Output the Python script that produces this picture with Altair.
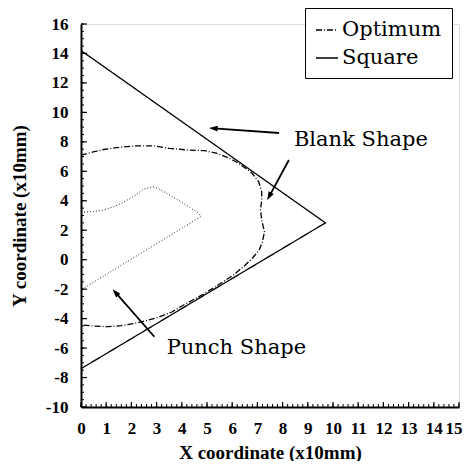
import math
import altair as alt
import pandas as pd

# ---------------- data ----------------
square_x = [0.0, 9.7, 0.0]
square_y = [14.2, 2.5, -7.4]

opt_x = [0.0, 0.45, 0.9, 1.5, 2.1, 2.9, 3.5, 4.2, 4.9, 5.4, 5.8, 6.15, 6.5, 6.8,
         7.05, 7.17, 7.17, 7.12, 7.18, 7.28, 7.2, 7.07, 6.8, 6.5, 6.0, 5.5, 4.9,
         4.2, 3.6, 3.0, 2.25, 1.6, 1.07, 0.5, 0.0]
opt_y = [7.10, 7.30, 7.48, 7.62, 7.72, 7.72, 7.56, 7.45, 7.40, 7.22, 6.95, 6.65,
         6.25, 5.85, 5.3, 4.6, 4.0, 3.4, 2.6, 1.9, 1.2, 0.66, 0.1, -0.4, -1.1,
         -1.65, -2.3, -2.95, -3.55, -3.95, -4.28, -4.48, -4.55, -4.5, -4.43]

punch_x = [0.0, 0.5, 0.9, 1.3, 1.6, 2.1, 2.5, 2.84, 3.05, 3.5, 4.0, 4.45, 4.7, 4.75, 0.0]
punch_y = [3.22, 3.27, 3.37, 3.6, 3.83, 4.3, 4.8, 4.96, 4.85, 4.4, 3.9, 3.4, 3.12, 2.92, -2.05]

series_names = ["Optimum", "Square"]

x_labels = list(range(0, 16))
y_labels = list(range(-10, 17, 2))
x_minor = [round(i * 0.2, 1) for i in range(0, 76)]
y_minor = [round(-10 + i * 0.5, 1) for i in range(0, 53)]

ann_text = ["Blank Shape", "Punch Shape"]
ann_tx = [8.45, 3.40]
ann_ty = [8.12, -6.0]

arrow_tail_x = [7.86, 8.25, 2.91]
arrow_tail_y = [8.60, 6.77, -5.23]
arrow_head_x = [5.09, 7.39, 1.26]
arrow_head_y = [8.94, 4.05, -2.01]

# ---------------- layout ----------------
W, H = 378, 383
XMIN, XMAX, YMIN, YMAX = 0, 15, -10, 16
sx = W / (XMAX - XMIN)
sy = H / (YMAX - YMIN)

xs = alt.Scale(domain=[XMIN, XMAX], nice=False, zero=False)
ys = alt.Scale(domain=[YMIN, YMAX], nice=False, zero=False)

SERIF = "Liberation Serif"
ANNFONT = "DejaVu Serif"

last_x = "datum.value == " + str(XMAX)
XAX = alt.Axis(
    values=x_labels, ticks=False, grid=False, domain=True, domainColor="black",
    domainWidth=2, labelPadding=13, labelFont=SERIF, labelFontSize=17,
    labelFontWeight="bold", labelColor="black", labelOverlap=False,
    labelFlush=False,
    labelAlign={"condition": {"test": last_x, "value": "right"}, "value": "center"},
    labelOffset={"condition": {"test": last_x, "value": 3}, "value": 0},
    title="X coordinate (x10mm)", titleFont=SERIF, titleFontSize=19,
    titleFontWeight="bold", titleColor="black", titleY=45, titleBaseline="middle")
YAX = alt.Axis(
    values=y_labels, ticks=False, grid=False, domain=True, domainColor="black",
    domainWidth=2, labelPadding=13, labelFont=SERIF, labelFontSize=17,
    labelFontWeight="bold", labelColor="black", labelExpr="'' + datum.value",
    labelOverlap=False, labelFlush=False,
    title="Y coordinate (x10mm)", titleFont=SERIF, titleFontSize=19,
    titleFontWeight="bold", titleColor="black", titleX=-62, titleBaseline="middle")

rows = []
for i, (x, y) in enumerate(zip(opt_x, opt_y)):
    rows.append({"series": "Optimum", "x": x, "y": y, "i": i})
for i, (x, y) in enumerate(zip(square_x, square_y)):
    rows.append({"series": "Square", "x": x, "y": y, "i": i})
df_blank = pd.DataFrame(rows)
df_punch = pd.DataFrame({"x": punch_x, "y": punch_y, "i": list(range(len(punch_x)))})

main = alt.Chart(df_blank).mark_line(color="black", strokeWidth=1.3).encode(
    x=alt.X("x:Q", scale=xs, axis=XAX),
    y=alt.Y("y:Q", scale=ys, axis=YAX),
    strokeDash=alt.StrokeDash("series:N", scale=alt.Scale(
        domain=series_names, range=[[6, 2, 1, 2], [1, 0]]),
        legend=alt.Legend(
            orient="none", legendX=224, legendY=-16, title=None,
            symbolType="stroke", symbolSize=484, symbolStrokeWidth=1.3,
            symbolStrokeColor="black", labelFont=ANNFONT, labelFontSize=21,
            labelColor="black", labelOffset=3, padding=10, rowPadding=6,
            strokeColor="black", fillColor="white")),
    order="i:Q",
)

punch = alt.Chart(df_punch).mark_line(color="#222222", strokeWidth=1, strokeDash=[1, 2]).encode(
    x=alt.X("x:Q", scale=xs, axis=XAX),
    y=alt.Y("y:Q", scale=ys, axis=YAX),
    order="i:Q",
)

# inward ticks along the bottom and left edges
df_xmaj = pd.DataFrame({"v": x_labels})
df_xmin = pd.DataFrame({"v": x_minor})
df_ymaj = pd.DataFrame({"v": y_labels})
df_ymin = pd.DataFrame({"v": y_minor})

xt_major = alt.Chart(df_xmaj).mark_rule(color="black", strokeWidth=1.2).encode(
    x=alt.X("v:Q", scale=xs, axis=XAX),
    y=alt.YDatum(YMIN, scale=ys, axis=YAX), y2=alt.Y2Datum(YMIN + 5 / sy))
xt_minor = alt.Chart(df_xmin).mark_rule(color="black", strokeWidth=1).encode(
    x=alt.X("v:Q", scale=xs, axis=XAX),
    y=alt.YDatum(YMIN, scale=ys, axis=YAX), y2=alt.Y2Datum(YMIN + 3 / sy))
yt_major = alt.Chart(df_ymaj).mark_rule(color="black", strokeWidth=1.2).encode(
    y=alt.Y("v:Q", scale=ys, axis=YAX),
    x=alt.XDatum(XMIN, scale=xs, axis=XAX), x2=alt.X2Datum(XMIN + 6 / sx))
yt_minor = alt.Chart(df_ymin).mark_rule(color="black", strokeWidth=1).encode(
    y=alt.Y("v:Q", scale=ys, axis=YAX),
    x=alt.XDatum(XMIN, scale=xs, axis=XAX), x2=alt.X2Datum(XMIN + 3 / sx))

df_text = pd.DataFrame({"label": ann_text, "x": ann_tx, "y": ann_ty})
texts = alt.Chart(df_text).mark_text(
    font=ANNFONT, fontSize=21, align="left", baseline="middle", color="black"
).encode(
    x=alt.X("x:Q", scale=xs, axis=XAX),
    y=alt.Y("y:Q", scale=ys, axis=YAX),
    text="label:N",
)

HEAD = 4.7
arows = []
for tx, ty, hx, hy in zip(arrow_tail_x, arrow_tail_y, arrow_head_x, arrow_head_y):
    dxp = (hx - tx) * sx
    dyp = -(hy - ty) * sy
    L = math.hypot(dxp, dyp)
    ux, uy = dxp / L, dyp / L
    cx = hx - HEAD * ux / sx
    cy = hy + HEAD * uy / sy
    ang = math.degrees(math.atan2(ux, -uy)) % 360
    arows.append({"tx": tx, "ty": ty, "cx": cx, "cy": cy, "ang": ang})
df_arrow = pd.DataFrame(arows)

shafts = alt.Chart(df_arrow).mark_rule(color="black", strokeWidth=1.8).encode(
    x=alt.X("tx:Q", scale=xs, axis=XAX),
    y=alt.Y("ty:Q", scale=ys, axis=YAX),
    x2="cx:Q",
    y2="cy:Q",
)
heads = alt.Chart(df_arrow).mark_point(
    shape="M0,-1L0.6,0.75L-0.6,0.75Z", filled=True, color="black", opacity=1, size=95
).encode(
    x=alt.X("cx:Q", scale=xs, axis=XAX),
    y=alt.Y("cy:Q", scale=ys, axis=YAX),
    angle=alt.Angle("ang:Q", scale=None),
)

chart = alt.layer(
    main, punch, xt_minor, xt_major, yt_minor, yt_major, texts, shafts, heads
).properties(
    width=W, height=H,
    autosize=alt.AutoSizeParams(type="none"),
    padding={"left": 73, "top": 16, "right": 3, "bottom": 54},
).configure_view(stroke="black", strokeWidth=1.2).configure(background="white")

chart.save("out.html", embed_options={"renderer": "svg", "actions": False})
